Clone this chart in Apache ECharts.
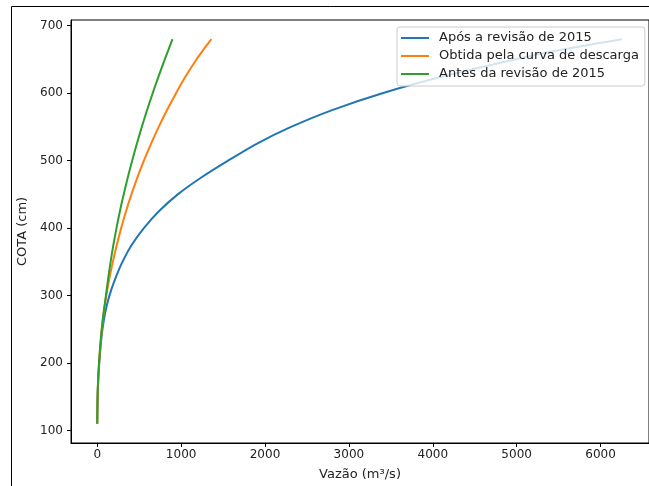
<!DOCTYPE html>
<html><head><meta charset="utf-8">
<script src="https://cdn.jsdelivr.net/npm/echarts@6/dist/echarts.min.js"></script>
<style>html,body{margin:0;padding:0;background:#fff}#c{width:649px;height:486px}</style>
</head><body><div id="c"></div>
<script>
// Cota (cm) levels at which each curve's discharge was read
const cotas = [110, 120, 130, 150, 175, 200, 225, 250, 275, 300, 325, 350, 375, 400, 425, 450, 475, 500, 525, 550, 575, 600, 625, 650, 665, 680];
// Vazão (m³/s)
const aposRevisao2015  = [0, 0.5, 1.5, 4.5, 12, 24, 40, 62, 95, 145, 215, 300, 410, 556, 735, 960, 1240, 1560, 1900, 2310, 2800, 3400, 4130, 4980, 5560, 6255];
const curvaDescarga    = [0, 0.5, 1.5, 4, 11, 22, 37, 55, 78, 108, 144, 186, 233, 285, 343, 407, 478, 556, 641, 733, 832, 939, 1054, 1182, 1269, 1362];
const antesRevisao2015 = [0, 0.5, 1.5, 4, 10, 21, 35, 53, 76, 103, 130, 159, 192, 229, 270, 315, 364, 416, 472, 531, 594, 661, 731, 805, 851, 897];
const seriesNames = ['Após a revisão de 2015', 'Obtida pela curva de descarga', 'Antes da revisão de 2015'];
const seriesColors = ['#1f77b4', '#ff7f0e', '#2ca02c'];
const xTicks = [0, 1000, 2000, 3000, 4000, 5000, 6000];
const yTicks = [100, 200, 300, 400, 500, 600, 700];

const toPairs = (xs) => xs.map((x, i) => [x, cotas[i]]);
const allData = [aposRevisao2015, curvaDescarga, antesRevisao2015];

const font = 'DejaVu Sans, sans-serif';
const chart = echarts.init(document.getElementById('c'), null, {renderer: 'canvas'});
chart.setOption({
  animation: false,
  backgroundColor: '#fff',
  grid: {left: 71, top: 20, right: -1, bottom: 43, show: true, borderColor: '#000', borderWidth: 1},
  xAxis: {
    type: 'value', min: -313, max: 6578,
    name: 'Vazão (m³/s)', nameLocation: 'middle', nameGap: 25,
    nameTextStyle: {fontFamily: font, fontSize: 13, color: '#222'},
    axisLine: {show: true, onZero: false, lineStyle: {color: '#000', width: 1}},
    axisTick: {show: true, length: 4, lineStyle: {color: '#000'}, customValues: xTicks},
    axisLabel: {fontFamily: font, fontSize: 12, color: '#222', margin: 6, customValues: xTicks, formatter: (v) => String(v)},
    splitLine: {show: false}
  },
  yAxis: {
    type: 'value', min: 81.5, max: 708.5,
    name: 'COTA (cm)', nameLocation: 'middle', nameGap: 41,
    nameTextStyle: {fontFamily: font, fontSize: 13, color: '#222'},
    axisLine: {show: true, onZero: false, lineStyle: {color: '#000', width: 1}},
    axisTick: {show: true, length: 4, lineStyle: {color: '#000'}, customValues: yTicks},
    axisLabel: {fontFamily: font, fontSize: 12, color: '#222', margin: 8, customValues: yTicks, formatter: (v) => String(v)},
    splitLine: {show: false}
  },
  legend: {
    orient: 'vertical', left: 397, top: 27,
    padding: [3, 6, 4, 4],
    backgroundColor: 'rgba(255,255,255,0.8)', borderColor: '#ccc', borderWidth: 1, borderRadius: 3,
    icon: 'rect', itemWidth: 28, itemHeight: 2, itemGap: 2,
    textStyle: {fontFamily: font, fontSize: 13, color: '#222', lineHeight: 16, padding: [0, 0, 0, 5]},
    data: seriesNames
  },
  graphic: [
    {type: 'line', shape: {x1: 11.5, y1: 6.5, x2: 649, y2: 6.5}, style: {stroke: '#000', lineWidth: 1}, z: 100},
    {type: 'line', shape: {x1: 11.5, y1: 6.5, x2: 11.5, y2: 486}, style: {stroke: '#000', lineWidth: 1}, z: 100}
  ],
  series: allData.map((d, i) => ({
    type: 'line', name: seriesNames[i], data: toPairs(d),
    showSymbol: false, symbol: 'none', smooth: 0.3,
    lineStyle: {color: seriesColors[i], width: 2}, itemStyle: {color: seriesColors[i]}
  }))
});
</script></body></html>
